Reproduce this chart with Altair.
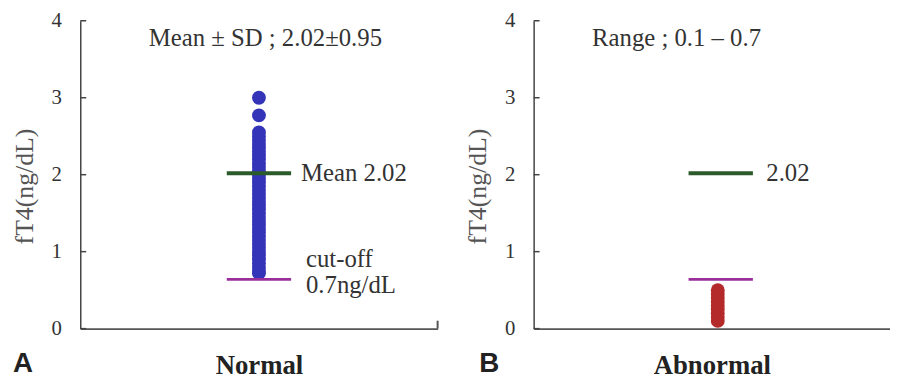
import altair as alt
import pandas as pd

# ---- data ----
groups = ["Normal", "Abnormal"]
normal_values = [0.72, 0.75, 0.8, 0.85, 0.9, 0.95, 1.0, 1.05, 1.1, 1.15, 1.2, 1.25,
                 1.3, 1.35, 1.4, 1.45, 1.5, 1.55, 1.6, 1.65, 1.7, 1.75, 1.8, 1.85,
                 1.9, 1.95, 2.0, 2.05, 2.1, 2.15, 2.2, 2.25, 2.3, 2.35, 2.4, 2.45,
                 2.5, 2.55, 2.77, 3.0]
abnormal_values = [0.1, 0.15, 0.2, 0.25, 0.3, 0.35, 0.4, 0.45, 0.5]
mean_value = 2.02
cutoff_value = 0.64
y_tick_values = [0, 1, 2, 3, 4]
top_notes = ["Mean \u00b1 SD ; 2.02\u00b10.95", "Range ; 0.1 \u2013 0.7"]
mean_labels = ["Mean 2.02", "2.02"]
cutoff_labels = ["cut-off", "0.7ng/dL"]
panel_letters = ["A", "B"]

SERIF = "Liberation Serif"
TXT = "#333333"
GREEN = "#2b5a2b"
PURPLE = "#9a2f9a"
DOT_COLORS = ["#3434b8", "#b42a2a"]
H = 311
FS = 25


def panel(idx, values, width, dot_dx, line_dx):
    cat = groups[idx]
    xenc = alt.X("group:N",
                 scale=alt.Scale(type="point", padding=0.5),
                 axis=alt.Axis(title=None, labelFont=SERIF, labelFontWeight="bold",
                               labelFontSize=27, labelColor="#222222", labelAngle=0,
                               labelPadding=24, ticks=False, tickSize=0,
                               domainColor="#555555", domainWidth=2, grid=False))
    yenc = alt.Y("fT4:Q",
                 scale=alt.Scale(domain=[0, 4], nice=False, zero=True),
                 axis=alt.Axis(values=y_tick_values, format="d", title="fT4(ng/dL)",
                               titleFont=SERIF, titleFontSize=26, titleFontWeight="normal",
                               titleColor="#555555", titlePadding=14, titleY=167,
                               labelFont=SERIF, labelFontSize=21, labelColor=TXT,
                               labelPadding=19, ticks=False, tickSize=0,
                               domainColor="#444444", domainWidth=1.5, grid=False))

    dots = alt.Chart(pd.DataFrame({"group": [cat] * len(values), "fT4": values})).mark_circle(
        size=196, opacity=1, color=DOT_COLORS[idx], xOffset=dot_dx
    ).encode(x=xenc, y=yenc)

    mean_line = alt.Chart(pd.DataFrame({"group": [cat], "fT4": [mean_value]})).mark_tick(
        color=GREEN, thickness=4, size=65, opacity=1, xOffset=line_dx
    ).encode(x="group:N", y="fT4:Q")

    cut_line = alt.Chart(pd.DataFrame({"group": [cat], "fT4": [cutoff_value]})).mark_tick(
        color=PURPLE, thickness=3, size=65, opacity=1, xOffset=line_dx
    ).encode(x="group:N", y="fT4:Q")

    inner_ticks = alt.Chart(pd.DataFrame({"fT4": y_tick_values})).mark_rule(
        color="#444444", strokeWidth=1.5
    ).encode(y="fT4:Q", x=alt.value(0), x2=alt.value(6))

    layers = [dots, mean_line, cut_line, inner_ticks]

    letter = alt.Chart(pd.DataFrame({"t": [panel_letters[idx]]})).mark_text(
        font="Liberation Sans", fontWeight="bold", fontSize=28, color="#222222",
        align="left", baseline="alphabetic"
    ).encode(x=alt.value(-68 if idx == 0 else -55), y=alt.value(H + 44), text="t:N")
    layers.append(letter)

    note = alt.Chart(pd.DataFrame({"t": [top_notes[idx]]})).mark_text(
        font=SERIF, fontSize=FS, color=TXT,
        align="center" if idx == 0 else "left", baseline="middle"
    ).encode(x=alt.value(187 if idx == 0 else 59), y=alt.datum(3.77), text="t:N")
    layers.append(note)

    mlab = alt.Chart(pd.DataFrame({"t": [mean_labels[idx]]})).mark_text(
        font=SERIF, fontSize=FS, color=TXT, align="left", baseline="middle"
    ).encode(x=alt.value(223 if idx == 0 else 235), y=alt.datum(mean_value), text="t:N")
    layers.append(mlab)

    if idx == 0:
        c1 = alt.Chart(pd.DataFrame({"t": [cutoff_labels[0]]})).mark_text(
            font=SERIF, fontSize=FS, color=TXT, align="left", baseline="middle"
        ).encode(x=alt.value(228), y=alt.datum(0.9), text="t:N")
        c2 = alt.Chart(pd.DataFrame({"t": [cutoff_labels[1]]})).mark_text(
            font=SERIF, fontSize=FS, color=TXT, align="left", baseline="middle"
        ).encode(x=alt.value(228), y=alt.datum(0.57), text="t:N")
        end_tick = alt.Chart(pd.DataFrame({"fT4": [0]})).mark_rule(
            color="#555555", strokeWidth=2
        ).encode(x=alt.value(width), y=alt.value(H), y2=alt.value(H - 8))
        layers += [c1, c2, end_tick]

    return alt.layer(*layers).properties(width=width, height=H)


chart_a = panel(0, normal_values, 361, 0, 0)
chart_b = panel(1, abnormal_values, 360, 6, 9)

chart = alt.hconcat(chart_a, chart_b, spacing=26).properties(
    padding={"left": 3, "top": 0, "right": 0, "bottom": 0}
).configure_view(stroke=None)

chart.save("out.html", embed_options={"renderer": "svg", "actions": False})
